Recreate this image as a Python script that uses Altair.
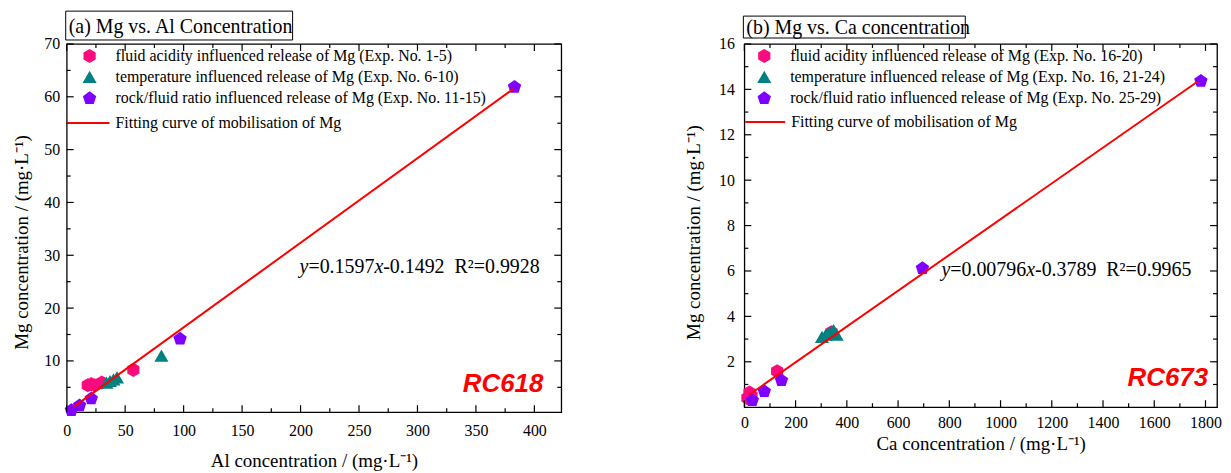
import altair as alt
import pandas as pd

# ---------------- data: panel (a) Mg vs Al ----------------
a_labels = [
    "fluid acidity influenced release of Mg (Exp. No. 1-5)",
    "temperature influenced release of Mg (Exp. No. 6-10)",
    "rock/fluid ratio influenced release of Mg (Exp. No. 11-15)",
]
a_acid_x = [18, 21, 24, 30, 57]
a_acid_y = [5.4, 5.6, 5.4, 5.9, 8.3]
a_temp_x = [34, 37, 40, 43, 81]
a_temp_y = [5.9, 6.2, 6.5, 6.9, 11.0]
a_rock_x = [4, 11, 21, 97, 383]
a_rock_y = [0.8, 1.7, 3.0, 14.3, 62.0]
a_fit_x = [6, 382]
a_fit_y = [1.3, 61.5]
a_xticks = [0, 50, 100, 150, 200, 250, 300, 350, 400]
a_xminor = [25, 75, 125, 175, 225, 275, 325, 375]
a_yticks = [10, 20, 30, 40, 50, 60, 70]
a_yminor = [5, 15, 25, 35, 45, 55, 65]
a_eq = ["y", "=0.1597", "x", "-0.1492\u00a0\u00a0R\u00b2=0.9928"]

# ---------------- data: panel (b) Mg vs Ca ----------------
b_labels = [
    "fluid acidity influenced release of Mg (Exp. No. 16-20)",
    "temperature influenced release of Mg (Exp. No. 16, 21-24)",
    "rock/fluid ratio influenced release of Mg (Exp. No. 25-29)",
]
b_acid_x = [12, 20, 28, 128, 340]
b_acid_y = [0.4, 0.65, 0.5, 1.58, 3.3]
b_temp_x = [303, 318, 332, 348, 360]
b_temp_y = [3.1, 3.2, 3.3, 3.4, 3.2]
b_rock_x = [31, 78, 145, 695, 1782]
b_rock_y = [0.33, 0.73, 1.21, 6.15, 14.4]
b_fit_x = [19, 1771]
b_fit_y = [0.55, 14.36]
b_xticks = [0, 200, 400, 600, 800, 1000, 1200, 1400, 1600, 1800]
b_xminor = [100, 300, 500, 700, 900, 1100, 1300, 1500, 1700]
b_yticks = [2, 4, 6, 8, 10, 12, 14, 16]
b_yminor = [1, 3, 5, 7, 9, 11, 13, 15]
b_eq = ["y", "=0.00796", "x", "-0.3789\u00a0\u00a0R\u00b2=0.9965"]

fit_label = "Fitting curve of mobilisation of Mg"
HEX = "M0,-1L0.866,-0.5L0.866,0.5L0,1L-0.866,0.5L-0.866,-0.5Z"
PENT = "M0,-0.9L0.951,-0.209L0.588,0.909L-0.588,0.909L-0.951,-0.209Z"
colors = ["#FB0C7E", "#008080", "#7F00FF"]
SERIF = "Liberation Serif"


def panel(labels, xs, ys, fit_x, fit_y, xticks, xminor, yticks, yminor,
          xdom, ydom, W, H, xtitle, ytitle, title, box_w, box_y, eq, eq_x, eq_y,
          eq_w, rc, ytitle_y, xlabpad, xtitlepad, ylabpad, ytitlepad,
          leg_x, line_len, corner=None):
    rows = []
    for lab, xv, yv in zip(labels, xs, ys):
        for a, b in zip(xv, yv):
            rows.append({"x": a, "y": b, "series": lab})
    df = pd.DataFrame(rows)
    xs_ = alt.Scale(domain=xdom, nice=False, zero=False)
    ys_ = alt.Scale(domain=ydom, nice=False, zero=False)
    leg = alt.Legend(title=None, orient="none", legendX=leg_x, legendY=4,
                     labelOffset=18, rowPadding=5, symbolSize=200,
                     symbolStrokeWidth=0, labelFont=SERIF, labelFontSize=16,
                     labelColor="black", padding=0, labelLimit=0)
    pts = alt.Chart(df).mark_point(filled=True, size=200, opacity=1).encode(
        x=alt.X("x:Q", scale=xs_, title=xtitle,
                axis=alt.Axis(values=xticks, format="d", labelPadding=xlabpad,
                              titlePadding=xtitlepad)),
        y=alt.Y("y:Q", scale=ys_, title=ytitle,
                axis=alt.Axis(values=yticks, format="d", labelPadding=ylabpad,
                              titlePadding=ytitlepad, titleY=ytitle_y)),
        color=alt.Color("series:N", scale=alt.Scale(domain=labels, range=colors),
                        legend=leg, sort=labels),
        shape=alt.Shape("series:N", scale=alt.Scale(domain=labels, range=[HEX, "triangle-up", PENT]),
                        legend=leg, sort=labels),
    )
    fdf = pd.DataFrame({"x": fit_x, "y": fit_y, "fit": [fit_label] * len(fit_x)})
    line = alt.Chart(fdf).mark_line(strokeWidth=2).encode(
        x="x:Q", y="y:Q",
        stroke=alt.Stroke("fit:N", scale=alt.Scale(domain=[fit_label], range=["#FF0000"]),
                          legend=alt.Legend(title=None, orient="none", legendX=0, legendY=57.5,
                                            symbolType="stroke", symbolSize=line_len ** 2,
                                            symbolStrokeWidth=2, labelOffset=5,
                                            labelFont=SERIF, labelFontSize=16,
                                            labelColor="black", padding=0, labelLimit=0)),
    )
    layers = [pts, line]
    # inward ticks on all four sides
    for vals, L in ((xticks, 7), (xminor, 4)):
        tdf = pd.DataFrame({"x": [v for v in vals if xdom[0] <= v <= xdom[1]]})
        layers.append(alt.Chart(tdf).mark_rule(color="black", strokeWidth=1.2).encode(
            x="x:Q", y=alt.value(H), y2=alt.value(H - L)))
        layers.append(alt.Chart(tdf).mark_rule(color="black", strokeWidth=1.2).encode(
            x="x:Q", y=alt.value(0), y2=alt.value(L)))
    for vals, L in ((yticks, 7), (yminor, 4)):
        tdf = pd.DataFrame({"y": [v for v in vals if ydom[0] <= v <= ydom[1]]})
        layers.append(alt.Chart(tdf).mark_rule(color="black", strokeWidth=1.2).encode(
            y="y:Q", x=alt.value(0), x2=alt.value(L)))
        layers.append(alt.Chart(tdf).mark_rule(color="black", strokeWidth=1.2).encode(
            y="y:Q", x=alt.value(W), x2=alt.value(W - L)))
    # title box
    tdf = pd.DataFrame({"t": [title]})
    if corner is not None:
        # invisible frame that fixes the chart's top-left corner
        layers.append(alt.Chart(tdf).mark_rect(opacity=0).encode(
            x=alt.value(corner[0]), x2=alt.value(0), y=alt.value(corner[1]), y2=alt.value(0)))
    layers.append(alt.Chart(tdf).mark_rect(fill="white", stroke="black", strokeWidth=1).encode(
        x=alt.value(-1), x2=alt.value(box_w), y=alt.value(box_y[0]), y2=alt.value(box_y[1])))
    layers.append(alt.Chart(tdf).mark_text(align="left", baseline="middle", font=SERIF,
                                           fontSize=20, color="black").encode(
        x=alt.value(2), y=alt.value((box_y[0] + box_y[1]) / 2 + 1), text="t:N"))
    # equation
    xpos = eq_x
    for part, w, it in zip(eq, eq_w, [True, False, True, False]):
        edf = pd.DataFrame({"t": [part]})
        layers.append(alt.Chart(edf).mark_text(
            align="left", baseline="middle", font=SERIF, fontSize=20, color="black",
            fontStyle="italic" if it else "normal").encode(
            x=alt.value(xpos), y=alt.value(eq_y), text="t:N"))
        xpos += w
    rdf = pd.DataFrame({"t": [rc[0]]})
    layers.append(alt.Chart(rdf).mark_text(
        align="right", baseline="middle", font="Liberation Sans", fontSize=26,
        fontWeight="bold", fontStyle="italic", color="#FF0000").encode(
        x=alt.value(rc[1]), y=alt.value(rc[2]), text="t:N"))
    return alt.layer(*layers).properties(width=W, height=H)


W1, H1 = 497, 370
W2, H2 = 475, 365
left = panel(a_labels, [a_acid_x, a_temp_x, a_rock_x], [a_acid_y, a_temp_y, a_rock_y],
             a_fit_x, a_fit_y, a_xticks, a_xminor, a_yticks, a_yminor,
             [0, 423], [0.3, 70], W1, H1,
             "Al concentration / (mg\u00b7L\u207b\u00b9)", "Mg concentration / (mg\u00b7L\u207b\u00b9)",
             "(a) Mg vs. Al Concentration", 227, (-33, -4),
             a_eq, 234, 224, [8.9, 66.3, 8.9, 0], ("RC618", 479, 342), 199,
             10, 13.5, 7, 12, 15, 42, corner=(-58, -33))
right = panel(b_labels, [b_acid_x, b_temp_x, b_rock_x], [b_acid_y, b_temp_y, b_rock_y],
              b_fit_x, b_fit_y, b_xticks, b_xminor, b_yticks, b_yminor,
              [0, 1845], [0.0, 16], W2, H2,
              "Ca concentration / (mg\u00b7L\u207b\u00b9)", "Mg concentration / (mg\u00b7L\u207b\u00b9)",
              "(b) Mg vs. Ca concentration", 222, (-28, -6),
              b_eq, 198, 227, [8.9, 76.3, 8.9, 0], ("RC673", 466, 336), 189,
              7.5, 4.5, 10, 15, 12, 40)

chart = alt.hconcat(left, right, spacing=184, bounds="flush").resolve_scale(
    color="independent", shape="independent", stroke="independent"
).resolve_legend(
    color="independent", shape="independent", stroke="independent"
).properties(
    padding={"left": 0, "top": 0, "right": 0, "bottom": 0}
).configure_view(
    stroke="black", strokeWidth=1.3
).configure_axis(
    labelFont=SERIF, labelFontSize=16, labelColor="black",
    titleFont=SERIF, titleFontSize=19, titleFontWeight="normal", titleColor="black",
    grid=False, ticks=False, tickSize=0, domain=False, labelFlush=False,
)

chart.save("out.html", embed_options={"renderer": "svg", "actions": False})
